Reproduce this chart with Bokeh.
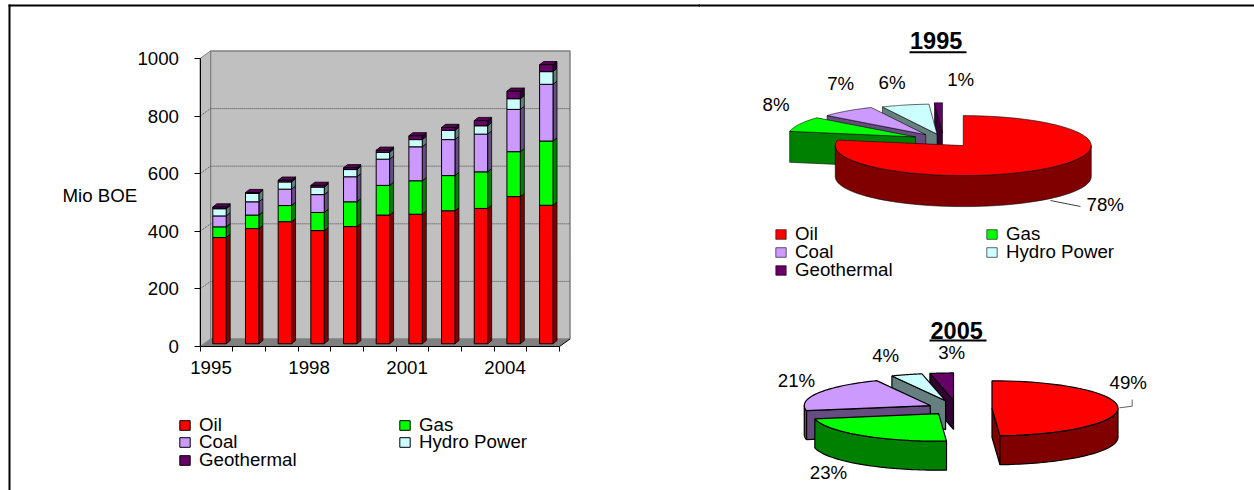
import math
from bokeh.core.properties import value
from bokeh.embed import file_html
from bokeh.layouts import row
from bokeh.models import FixedTicker, Legend, LegendItem, LinearAxis, Range1d
from bokeh.plotting import figure
from bokeh.resources import INLINE

FONT = "Liberation Sans"
TXT = "18.7px"
years = [1995, 1996, 1997, 1998, 1999, 2000, 2001, 2002, 2003, 2004, 2005]
tick_years = [1995, 1998, 2001, 2004]
oil = [369, 400, 424, 393, 407, 447, 450, 462, 470, 511, 481]
gas = [37, 47, 56, 63, 86, 103, 116, 122, 127, 156, 223]
coal = [38, 46, 57, 62, 87, 91, 118, 125, 131, 147, 197]
hydro = [25, 29, 25, 26, 25, 24, 25, 32, 29, 37, 44]
geothermal = [6, 3, 6, 6, 6, 7, 13, 10, 18, 26, 24]
y_ticks = [0, 200, 400, 600, 800, 1000]
names = ["Oil", "Gas", "Coal", "Hydro Power", "Geothermal"]
face = ["#FF0000", "#00FF00", "#CC99FF", "#CCFFFF", "#660066"]
side = ["#800000", "#008000", "#664D80", "#668080", "#330033"]
top_face = ["#D90000", "#00D900", "#AD82D9", "#ADD9D9", "#570057"]
share_1995 = [78, 8, 7, 6, 1]
share_2005 = [49, 23, 21, 4, 3]

PAGE_X, PAGE_Y = 0, 0        # where the figures start on the page
SPLIT = 700                  # page x where left figure ends
OVERLAP = 2                  # right figure slides over the left one to close the seam
PAGE_H = 490
PAGE_W = 1254

# ---- left: bar chart -----------------------------------------------------
PX_YEAR = 32.68
PX_UNIT = 0.288
LABEL_1995_X = 210.5         # page x of the 1995 label
ZERO_Y = 346                 # page y of value 0


def year_of(px):
    return 1995 + (px - LABEL_1995_X) / PX_YEAR


def val_of(py):
    return (ZERO_Y - py) / PX_UNIT


x0 = year_of(199.5)
x1 = x0 + 11
DX, DY = 10.5 / PX_YEAR, 7.5 / PX_UNIT  # wall depth
BX, BY = 4 / PX_YEAR, 3.2 / PX_UNIT     # bar depth
BAR_W = 13.4 / PX_YEAR
BAR_C = 8.5 / PX_YEAR
BAR_Y = 9.4

p = figure(width=SPLIT - PAGE_X, height=PAGE_H - PAGE_Y, output_backend="svg", toolbar_location=None,
           x_range=Range1d(year_of(PAGE_X), year_of(SPLIT)),
           y_range=Range1d(val_of(PAGE_H), val_of(PAGE_Y)),
           x_axis_location=None, y_axis_location=None, min_border=0,
           background_fill_color="white", border_fill_color="white", outline_line_color=None)
p.xgrid.visible = False
p.ygrid.visible = False

# walls and floor
p.patch([x0 + DX, x1 + DX, x1 + DX, x0 + DX], [DY, DY, 1000 + DY, 1000 + DY],
        fill_color="#C0C0C0", line_color="#808080", line_width=1.5)
p.patch([x0, x0 + DX, x0 + DX, x0], [0, DY, 1000 + DY, 1000],
        fill_color="#C0C0C0", line_color="#808080", line_width=1)
p.patch([x0, x1, x1 + DX, x0 + DX], [0, 0, DY, DY], fill_color="#808080", line_color=None)
p.line([x1, x1 + DX], [0, DY], line_color="black", line_width=1)
grid_vals = [v for v in y_ticks if 0 < v < 1000]
p.multi_line([[x0, x0 + DX, x1 + DX] for _ in grid_vals],
             [[v, v + DY, v + DY] for v in grid_vals],
             line_color="#4A4A4A", line_width=1, line_dash="1 1")

yax = LinearAxis(ticker=FixedTicker(ticks=y_ticks), bounds=(0, 1000), fixed_location=x0)
yax.major_tick_in = 0
yax.major_tick_out = 6
yax.minor_tick_line_color = None
yax.major_label_standoff = 15
yax.major_label_text_font = FONT
yax.major_label_text_font_size = TXT
yax.major_label_text_color = "black"
yax.axis_line_color = "black"
p.add_layout(yax, "left")

xax = LinearAxis(ticker=FixedTicker(ticks=tick_years, minor_ticks=[x0 + i for i in range(12)]),
                 bounds=(x0, x1), fixed_location=0)
xax.major_tick_in = 0
xax.major_tick_out = 0
xax.minor_tick_in = 0
xax.minor_tick_out = 5
xax.minor_tick_line_color = "black"
xax.major_label_standoff = 9
xax.major_label_text_font = FONT
xax.major_label_text_font_size = TXT
xax.major_label_text_color = "black"
xax.formatter.use_scientific = False
xax.formatter.precision = 0
p.add_layout(xax, "below")

p.text([year_of(62)], [val_of(195)], text=["Mio BOE"], text_font=value(FONT), text_font_size=TXT,
       text_baseline="middle", text_align="left", text_color="black")

# stacked 3D bars
base = [BAR_Y] * len(years)
series = [oil, gas, coal, hydro, geothermal]
bar_rs = {}
for i, vals in enumerate(series):
    tops = [b + v for b, v in zip(base, vals)]
    lefts = [y + BAR_C - BAR_W / 2 for y in years]
    rights = [y + BAR_C + BAR_W / 2 for y in years]
    p.patches([[r, r + BX, r + BX, r] for r in rights],
              [[b, b + BY, t + BY, t] for b, t in zip(base, tops)],
              fill_color=side[i], line_color="black", line_width=0.8)
    if i == len(series) - 1:
        p.patches([[l, r, r + BX, l + BX] for l, r in zip(lefts, rights)],
                  [[t, t, t + BY, t + BY] for t in tops],
                  fill_color=top_face[i], line_color="black", line_width=0.8)
    bar_rs[names[i]] = p.quad(left=lefts, right=rights, bottom=base, top=tops,
                              fill_color=face[i], line_color="black", line_width=1)
    base = tops


def legend_at(fig, rend, label, x, y):
    """One legend entry; x, y are measured from the frame's lower-left corner."""
    fig.add_layout(Legend(items=[LegendItem(label=value(label), renderers=[rend])],
                          location=(x, y), padding=0, margin=0, spacing=0,
                          glyph_width=13, glyph_height=12, label_height=20, label_standoff=8,
                          label_text_font=FONT, label_text_font_size=TXT, label_text_color="black",
                          background_fill_alpha=0, border_line_color=None))


def left_legend(x_page, cy_page, rend, label):
    legend_at(p, rend, label, x_page - PAGE_X, PAGE_H - (cy_page + 10))


left_legend(178, 425.5, bar_rs["Oil"], "Oil")
left_legend(178, 443, bar_rs["Coal"], "Coal")
left_legend(178, 460.5, bar_rs["Geothermal"], "Geothermal")
left_legend(398, 425.5, bar_rs["Gas"], "Gas")
left_legend(398, 443, bar_rs["Hydro Power"], "Hydro Power")

# page frame (top and left rules)
p.quad(left=[year_of(8)], right=[year_of(SPLIT + 2)], top=[val_of(4)], bottom=[val_of(6)],
       fill_color="black", line_color=None)
p.quad(left=[year_of(8)], right=[year_of(10)], top=[val_of(4)], bottom=[val_of(PAGE_H)],
       fill_color="black", line_color=None)

# ---- right: exploded 3D pies, axes in page px ------------------------------
q_left = SPLIT - OVERLAP
q = figure(width=PAGE_W - q_left, height=PAGE_H - PAGE_Y, output_backend="svg", toolbar_location=None,
           x_range=Range1d(q_left, PAGE_W), y_range=Range1d(PAGE_H, PAGE_Y),
           x_axis_location=None, y_axis_location=None, min_border=0, margin=(0, 0, 0, -OVERLAP),
           background_fill_alpha=0, border_fill_alpha=0, outline_line_color=None)
q.xgrid.visible = False
q.ygrid.visible = False
q.quad(left=[q_left], right=[PAGE_W], top=[4], bottom=[6], fill_color="black", line_color=None)


def arc_points(ax, ay, a, b, s, e, n=48):
    ts = [s + (e - s) * j / n for j in range(n + 1)]
    return [ax + a * math.sin(math.radians(t)) for t in ts], [ay - b * math.cos(math.radians(t)) for t in ts]


def pie(shares, cx, cy, a, b, depth, expl, lw):
    cuts = [0]
    for s in shares:
        cuts.append(cuts[-1] + s * 3.6)
    tops = {}
    for i in reversed(range(len(shares))):
        s, e = cuts[i], cuts[i + 1]
        m = math.radians((s + e) / 2)
        ax, ay = cx + expl[i] * math.sin(m), cy - expl[i] * math.cos(m) * b / a
        style = dict(fill_color=side[i], line_color="black", line_width=lw)
        for ang, seen in ((s, math.sin(math.radians(s)) < -1e-6), (e, math.sin(math.radians(e)) > 1e-6)):
            if seen:
                ox, oy = arc_points(ax, ay, a, b, ang, ang, 1)
                q.patch([ax, ox[0], ox[0], ax], [ay, oy[0], oy[0] + depth, ay + depth], **style)
        fs, fe = max(s, 90), min(e, 270)
        if fs < fe:
            ax_x, ax_y = arc_points(ax, ay, a, b, fs, fe)
            q.patch(ax_x + ax_x[::-1], ax_y + [v + depth for v in ax_y[::-1]], **style)
        tx, ty = arc_points(ax, ay, a, b, s, e)
        tops[names[i]] = q.patch([ax] + tx, [ay] + ty, fill_color=face[i], line_color="black", line_width=lw)
    return tops


tops95 = pie(share_1995, 943, 139.5, 128, 30, 31, [31, 31, 29, 26, 31], 0.6)
pie(share_2005, 956.5, 408, 126, 27.5, 29, [35, 30, 30, 37, 37], 1.2)


def txt(x, y, s, size=TXT, style="normal"):
    q.text([x], [y], text=[s], text_font=value(FONT), text_font_size=size, text_font_style=style,
           text_baseline="middle", text_align="left", text_color="black")


for v, (x, y) in zip(share_1995, [(1086, 203.7), (762, 103.7), (826.7, 83), (878, 82), (946.7, 79)]):
    txt(x, y, f"{v}%")
for v, (x, y) in zip(share_2005, [(1109, 382), (809.3, 472), (777.3, 380), (871.7, 355.3), (937.7, 352)]):
    txt(x, y, f"{v}%")
q.line([1050, 1080], [200, 206], line_color="#404040", line_width=1)
q.line([1119, 1131.7, 1131.7], [407.3, 405.7, 399], line_color="#606060", line_width=1)

txt(909.5, 40, "1995", "23.5px", "bold")
q.quad(left=[909], right=[966], top=[50.7], bottom=[52.7], fill_color="black", line_color=None)
txt(930, 329.7, "2005", "23.5px", "bold")
q.quad(left=[929], right=[986], top=[339], bottom=[341], fill_color="black", line_color=None)


def right_legend(x_page, cy_page, label):
    legend_at(q, tops95[label], label, x_page - q_left, PAGE_H - (cy_page + 10))


right_legend(774, 235, "Oil")
right_legend(774, 253, "Coal")
right_legend(774, 271, "Geothermal")
right_legend(985, 235, "Gas")
right_legend(985, 253, "Hydro Power")

layout = row(p, q, spacing=0)
open("out.html", "w").write(file_html(layout, INLINE))
